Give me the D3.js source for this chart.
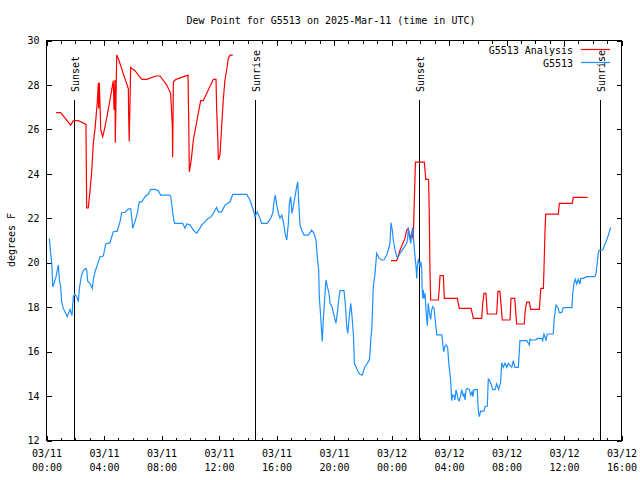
<!DOCTYPE html>
<html>
<head>
<meta charset="utf-8">
<script src="https://cdn.jsdelivr.net/npm/d3@7"></script>
<style>
  body { margin: 0; background: #fff; }
  svg { display: block; }
  text { font-family: "DejaVu Sans Mono", monospace; font-size: 10px; fill: #000; }
</style>
</head>
<body>
<div id="chart"></div>
<script>
// hours after 03/11 00:00 UTC, dew point in F
var obsTime = [
  0.23,0.28,0.40,0.47,0.56,0.70,0.79,0.86,0.93,1.02,
  1.09,1.20,1.32,1.48,1.67,1.81,1.90,2.00,2.14,2.25,
  2.32,2.46,2.59,2.76,2.83,2.90,3.06,3.22,3.29,3.41,
  3.57,3.76,3.99,4.15,4.45,4.68,4.96,5.15,5.27,5.50,
  5.73,5.89,5.96,6.03,6.19,6.35,6.49,6.66,6.89,7.12,
  7.28,7.58,7.81,7.98,8.58,8.67,8.77,8.86,8.95,9.51,
  9.67,9.79,10.02,10.25,10.48,10.66,10.83,11.06,11.29,11.46,
  11.64,11.87,11.99,12.22,12.45,12.80,12.99,13.96,14.19,14.42,
  14.54,14.70,14.84,15.00,15.39,15.63,15.77,15.88,15.95,16.05,
  16.17,16.28,16.40,16.51,16.63,16.75,16.86,16.93,17.02,17.11,
  17.20,17.32,17.44,17.51,17.58,17.67,17.79,17.95,18.25,18.48,
  18.64,18.78,18.87,18.97,19.01,19.11,19.18,19.22,19.29,19.41,
  19.48,19.57,19.69,19.76,19.90,20.03,20.17,20.26,20.36,20.45,
  20.73,20.82,20.92,20.99,21.10,21.20,21.27,21.38,21.43,21.45,
  21.61,21.73,21.84,22.00,22.07,22.19,22.35,22.49,22.54,22.59,
  22.66,22.77,22.89,23.00,23.19,23.35,23.51,23.70,23.81,23.93,
  24.00,24.09,24.16,24.28,24.40,24.51,24.63,24.86,25.09,25.16,
  25.20,25.30,25.37,25.44,25.51,25.60,25.67,25.74,25.79,25.83,
  25.90,25.97,26.02,26.07,26.14,26.16,26.21,26.25,26.30,26.37,
  26.44,26.49,26.53,26.59,26.66,26.76,26.83,26.90,26.99,27.08,
  27.18,27.53,27.60,27.67,27.74,27.83,27.94,28.03,28.15,28.22,
  28.29,28.38,28.45,28.52,28.61,28.68,28.75,28.85,28.92,29.03,
  29.08,29.15,29.22,29.31,29.45,29.55,29.64,29.69,29.77,30.00,
  30.07,30.14,30.24,30.47,30.54,30.70,30.77,30.94,31.08,31.23,
  31.35,31.49,31.63,31.70,31.81,31.93,32.05,32.16,32.40,32.51,
  32.63,32.86,32.97,33.44,33.62,33.67,33.79,34.09,34.18,34.48,
  34.55,34.64,34.78,34.87,35.29,35.34,35.48,35.64,35.71,35.87,
  35.99,36.59,36.64,36.73,36.82,36.92,37.03,37.15,37.20,37.38,
  37.61,38.19,38.26,38.35,38.42,38.49,38.73,38.89,39.01,39.12,39.28
];
var obsDew = [
  21.07,20.7,19.95,18.9,19.05,19.35,19.65,19.87,19.2,18.9,
  18.22,17.92,17.77,17.55,17.88,17.6,18.45,18.57,18.45,18.22,
  18.82,19.38,19.62,19.72,19.65,19.15,19.05,18.82,19.2,19.57,
  19.87,20.25,20.28,20.82,20.88,21.37,21.4,21.83,22.23,22.25,
  22.4,22.4,22.05,21.53,21.83,22.2,22.72,22.72,22.95,23.07,
  23.28,23.28,23.22,23.02,23.02,22.98,22.5,21.98,21.75,21.75,
  21.53,21.72,21.68,21.45,21.3,21.48,21.67,21.83,21.98,22.03,
  22.2,22.47,22.27,22.27,22.57,22.72,23.05,23.05,22.8,22.35,
  22.05,22.27,22.05,21.75,21.75,21.98,22.2,22.8,23.02,22.57,
  22.2,21.98,22.12,21.83,21.3,21.0,21.75,22.65,22.95,22.2,
  22.5,22.95,23.4,23.62,22.72,21.67,21.45,21.22,21.22,21.45,
  21.3,21.0,20.25,19.65,18.45,17.55,16.8,16.43,17.4,18.6,
  19.2,18.9,18.6,18.15,18.0,17.62,17.25,17.7,18.3,18.72,
  18.72,18.15,17.1,16.8,17.55,18.15,17.7,16.8,16.0,15.45,
  15.23,15.05,14.95,14.92,15.07,15.3,15.45,15.6,15.9,16.5,
  16.95,18.9,19.5,20.4,20.17,20.1,20.1,20.32,20.55,20.85,
  21.78,21.45,21.0,20.55,20.25,20.25,20.4,20.62,20.85,21.07,
  21.53,21.1,20.85,21.3,21.57,20.77,20.28,19.8,19.27,19.8,
  20.1,19.98,19.8,20.02,19.72,18.9,18.37,18.75,18.37,18.6,
  17.77,17.4,17.14,18.15,17.77,17.43,17.85,18.0,17.92,17.4,
  16.73,16.73,16.35,15.97,16.2,16.28,16.17,15.38,14.7,13.77,
  14.02,14.0,13.8,14.25,14.02,13.8,13.77,14.02,14.27,13.95,
  14.1,13.8,14.27,14.32,14.27,14.02,14.17,13.95,14.27,14.27,
  13.35,13.05,13.3,13.3,13.5,13.53,14.77,14.55,14.27,14.27,
  14.52,14.27,14.62,15.48,15.27,15.45,15.27,15.45,15.27,15.57,
  15.27,15.27,16.47,16.47,16.28,16.54,16.5,16.5,16.57,16.57,
  16.47,16.77,16.5,16.77,16.77,17.4,18.07,17.92,17.73,17.73,
  17.96,17.96,18.57,19.05,19.23,19.02,19.23,19.02,19.27,19.27,
  19.35,19.35,19.5,19.98,20.4,20.55,20.55,20.82,21.0,21.22,21.57
];

// analysis series, null value = gap
var anaTime = [
  0.70,1.02,1.72,1.90,2.25,2.78,2.83,2.94,3.06,3.18,3.29,3.41,
  3.57,3.64,3.66,3.71,3.81,3.94,4.03,4.22,4.45,4.68,4.73,4.80,
  4.82,4.92,5.03,5.73,5.75,5.79,5.89,6.19,6.66,7.00,7.65,7.93,
  8.40,8.67,8.79,8.81,8.86,9.04,9.88,9.93,9.97,10.07,10.14,10.25,
  10.76,10.94,11.64,11.83,11.87,11.95,11.99,12.10,12.22,12.33,12.45,12.57,
  12.68,12.80,12.99,
  18.00,
  24.00,24.40,24.63,24.97,25.09,25.20,25.32,25.44,25.55,25.62,25.70,26.32,
  26.42,26.61,26.66,26.71,26.76,27.29,27.36,27.41,27.64,27.71,28.61,28.75,
  29.57,29.73,30.31,30.38,30.47,30.61,30.70,31.35,31.44,31.58,31.74,32.28,
  32.35,32.61,32.74,33.27,33.34,33.44,33.62,33.72,34.32,34.42,34.60,34.64,
  34.71,34.76,35.64,35.71,36.61,36.68,37.68
];
var anaDew = [
  26.73,26.73,26.17,26.37,26.37,26.2,22.44,22.44,23.2,24.07,25.35,26.0,
  27.22,28.08,26.92,28.08,25.95,25.65,25.88,26.47,27.3,28.17,26.85,28.2,
  25.38,29.32,29.17,27.8,26.58,25.43,28.77,28.62,28.23,28.23,28.38,28.38,
  27.97,27.6,26.1,24.72,28.12,28.23,28.42,26.25,24.07,24.45,24.82,25.5,
  27.27,27.27,28.23,28.23,26.92,25.58,24.6,24.82,26.1,27.3,28.2,28.65,
  29.17,29.32,29.32,
  null,
  20.07,20.07,20.55,21.07,21.45,21.53,21.08,21.3,21.03,22.72,24.5,24.5,
  23.73,23.73,22.35,19.65,18.3,18.3,18.82,19.4,19.4,18.37,18.37,17.92,
  17.92,17.47,17.47,18.15,18.6,18.6,17.67,17.67,18.69,18.69,17.4,17.4,
  18.37,18.37,17.22,17.22,17.85,18.2,18.2,17.88,17.88,18.82,18.82,19.65,
  21.3,22.16,22.16,22.65,22.65,22.92,22.92
];

var sunTime = [1.97, 14.56, 25.97, 38.54];
var sunLabel = ["Sunset", "Sunrise", "Sunset", "Sunrise"];
var yTicks = [12, 14, 16, 18, 20, 22, 24, 26, 28, 30];

var W = 640, H = 480;
var margin = {top: 40, right: 19, bottom: 40, left: 46};
var t0 = Date.UTC(2025, 2, 11, 0, 0);
function toDate(h) { return new Date(t0 + h * 3600000); }

var x = d3.scaleUtc()
    .domain([toDate(0), toDate(40)])
    .range([margin.left, W - margin.right]);
var y = d3.scaleLinear()
    .domain([12, 30])
    .range([H - margin.bottom, margin.top]);

var svg = d3.select('#chart').append('svg')
    .attr('width', W)
    .attr('height', H);

var plot = svg.append('g').attr('transform', 'translate(0.5,0.5)');

// minor x ticks (hourly), bottom and top
var minorB = d3.axisBottom(x).ticks(d3.utcHour.every(1)).tickSize(-3).tickFormat('');
var minorT = d3.axisTop(x).ticks(d3.utcHour.every(1)).tickSize(-3).tickFormat('');
plot.append('g').attr('transform', 'translate(0,' + y(12) + ')').call(minorB);
plot.append('g').attr('transform', 'translate(0,' + y(30) + ')').call(minorT);

// major x ticks
var fmtDay = d3.utcFormat('%m/%d'), fmtHour = d3.utcFormat('%H:%M');
var xAxis = plot.append('g')
    .attr('transform', 'translate(0,' + y(12) + ')')
    .call(d3.axisBottom(x).ticks(d3.utcHour.every(4)).tickSize(-5).tickFormat(''));
xAxis.selectAll('.tick').append('text')
    .attr('text-anchor', 'middle')
    .attr('y', 16)
    .each(function(d) {
        var t = d3.select(this);
        t.append('tspan').attr('x', 0).text(fmtDay(d));
        t.append('tspan').attr('x', 0).attr('dy', 14).text(fmtHour(d));
    });
plot.append('g')
    .attr('transform', 'translate(0,' + y(30) + ')')
    .call(d3.axisTop(x).ticks(d3.utcHour.every(4)).tickSize(-5).tickFormat(''));

// y ticks left and right
plot.append('g')
    .attr('transform', 'translate(' + x.range()[0] + ',0)')
    .call(d3.axisLeft(y).tickValues(yTicks).tickSize(-5).tickPadding(7));
plot.append('g')
    .attr('transform', 'translate(' + x.range()[1] + ',0)')
    .call(d3.axisRight(y).tickValues(yTicks).tickSize(-5).tickFormat(''));

plot.selectAll('.domain').remove();
plot.selectAll('.tick line').attr('stroke', '#000').attr('shape-rendering', 'crispEdges');
plot.selectAll('.tick text').attr('fill', '#000')
    .style('font-family', '"DejaVu Sans Mono", monospace').style('font-size', '10px');

// frame
plot.append('rect')
    .attr('x', x.range()[0])
    .attr('y', y(30))
    .attr('width', x.range()[1] - x.range()[0])
    .attr('height', y(12) - y(30))
    .attr('fill', 'none')
    .attr('stroke', '#000')
    .attr('shape-rendering', 'crispEdges');

// sunrise / sunset markers
sunTime.forEach(function(h, i) {
    var sx = Math.round(x(toDate(h)));
    plot.append('line')
        .attr('x1', sx).attr('x2', sx)
        .attr('y1', y(30) + 59).attr('y2', y(12))
        .attr('stroke', '#000')
        .attr('shape-rendering', 'crispEdges');
    svg.append('text')
        .attr('transform', 'translate(' + (sx + 5) + ',' + (y(30) + 52) + ') rotate(-90)')
        .text(sunLabel[i]);
});

// data lines
var line = d3.line()
    .defined(function(d) { return d.v != null; })
    .x(function(d) { return x(toDate(d.t)); })
    .y(function(d) { return y(d.v); });

var obsData = obsTime.map(function(t, i) { return {t: t, v: obsDew[i]}; });
var anaData = anaTime.map(function(t, i) { return {t: t, v: anaDew[i]}; });

svg.append('path')
    .datum(anaData)
    .attr('d', line)
    .attr('fill', 'none')
    .attr('stroke', '#ff0000')
    .attr('stroke-width', 1.2);
svg.append('path')
    .datum(obsData)
    .attr('d', line)
    .attr('fill', 'none')
    .attr('stroke', '#1e90ff')
    .attr('stroke-width', 1.2);

// legend
var legend = [{name: 'G5513 Analysis', color: '#ff0000'}, {name: 'G5513', color: '#1e90ff'}];
legend.forEach(function(d, i) {
    var ly = 50 + i * 13;
    svg.append('text')
        .attr('x', 573).attr('y', ly + 4)
        .attr('text-anchor', 'end')
        .text(d.name);
    svg.append('line')
        .attr('x1', 581).attr('x2', 610)
        .attr('y1', ly - 0.5).attr('y2', ly - 0.5)
        .attr('stroke', d.color)
        .attr('stroke-width', 1.2);
});

// title and axis label
svg.append('text')
    .attr('x', 331).attr('y', 24)
    .attr('text-anchor', 'middle')
    .text('Dew Point for G5513 on 2025-Mar-11 (time in UTC)');
svg.append('text')
    .attr('transform', 'translate(15,' + (H / 2) + ') rotate(-90)')
    .attr('text-anchor', 'middle')
    .text('degrees F');
</script>
</body>
</html>
